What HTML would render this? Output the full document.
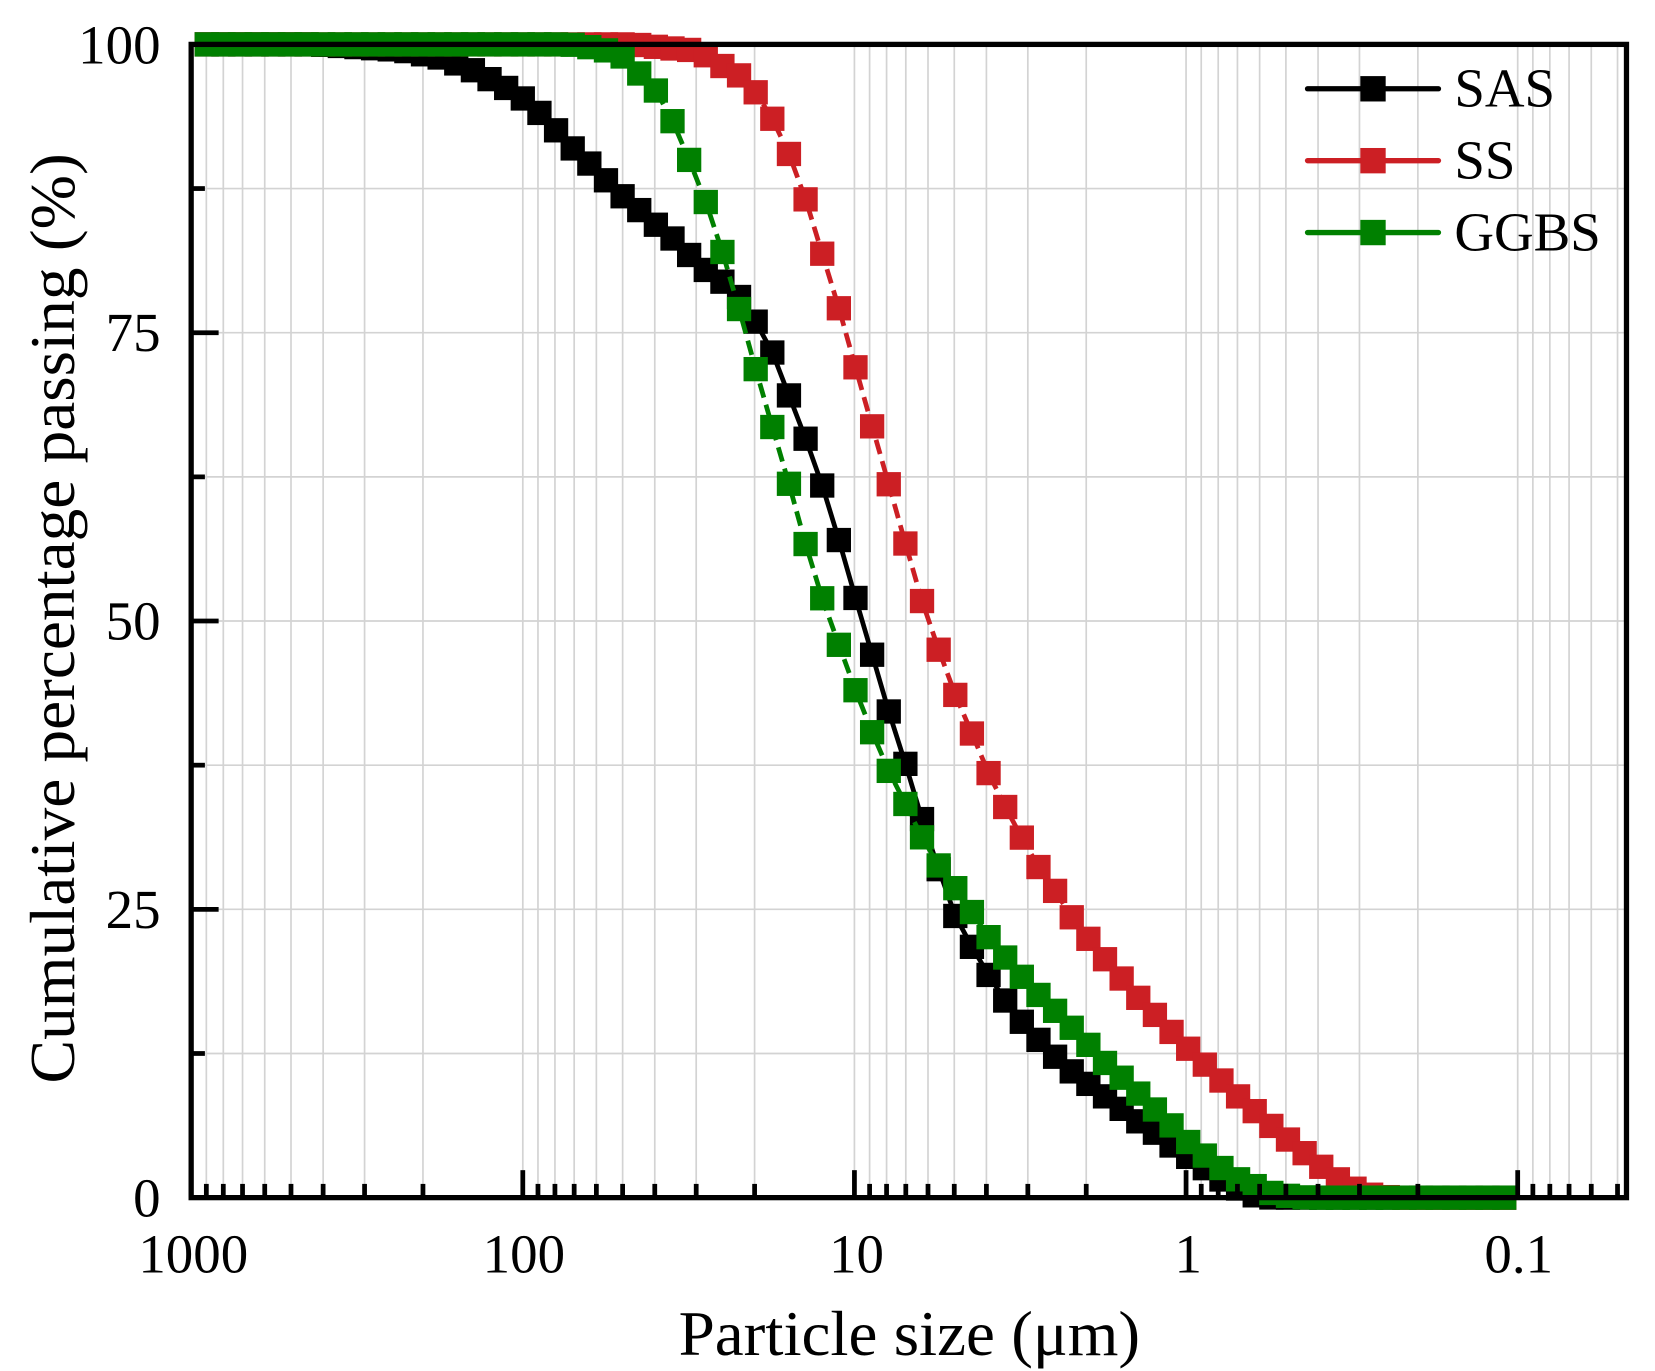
<!DOCTYPE html>
<html><head><meta charset="utf-8"><style>html,body{margin:0;padding:0;background:#fff}svg{display:block}</style></head>
<body>
<svg id="s" width="1655" height="1371" viewBox="0 0 1567 1297" preserveAspectRatio="none" xmlns="http://www.w3.org/2000/svg" font-family="'Liberation Serif', serif">
<g id="grid" stroke="#d3d3d3" stroke-width="1.6"></g>
<g id="series"></g>
<g id="ticks" stroke="#000" stroke-width="4.5"></g>
<rect x="181" y="42" width="1359" height="1091" fill="none" stroke="#000" stroke-width="5"/>
<g font-size="52" fill="#000" text-anchor="end">
<text x="152" y="60">100</text>
<text x="152" y="332">75</text>
<text x="152" y="605">50</text>
<text x="152" y="878">25</text>
<text x="152" y="1151">0</text>
</g>
<g font-size="52" fill="#000" text-anchor="middle">
<text x="183" y="1204">1000</text>
<text x="496" y="1204">100</text>
<text x="811" y="1204">10</text>
<text x="1125" y="1204">1</text>
<text x="1438" y="1204">0.1</text>
</g>
<text x="861" y="1282" font-size="60" text-anchor="middle" textLength="437" lengthAdjust="spacingAndGlyphs">Particle size (μm)</text>
<text transform="translate(70,585) rotate(-90)" font-size="60" text-anchor="middle" textLength="880" lengthAdjust="spacingAndGlyphs">Cumulative percentage passing (%)</text>
<g stroke-width="5" stroke-linecap="round">
<line x1="1238" y1="84" x2="1362" y2="84" stroke="#000"/>
<rect x="1288" y="72" width="24" height="24" fill="#000"/>
<line x1="1238" y1="152" x2="1362" y2="152" stroke="#cc1f24"/>
<rect x="1288" y="140" width="24" height="24" fill="#cc1f24"/>
<line x1="1238" y1="220" x2="1362" y2="220" stroke="#008000"/>
<rect x="1288" y="208" width="24" height="24" fill="#008000"/>
</g>
<g font-size="52" fill="#000">
<text x="1377" y="101">SAS</text>
<text x="1377" y="169">SS</text>
<text x="1377" y="237">GGBS</text>
</g>
</svg>
<script>
var NS="http://www.w3.org/2000/svg";
function el(p,t,a){var e=document.createElementNS(NS,t);for(var k in a)e.setAttribute(k,a[k]);p.appendChild(e);return e;}
var L=181,R=1540,T=42,B=1133,X1000=181,DEC=314;
function X(v){return X1000+(3-Math.log10(v))*DEC;}
function Y(p){return B-p*(B-T)/100;}
var grid=document.getElementById('grid'),ticks=document.getElementById('ticks');
for(var e=-2;e<=3;e++){for(var m=1;m<10;m++){var v=m*Math.pow(10,e);var x=X(v);if(x<L-0.5||x>R+0.5)continue;
 el(grid,'line',{x1:x,y1:T,x2:x,y2:B});
 var len=(m==1)?26:13; el(ticks,'line',{x1:x,y1:B,x2:x,y2:B-len});}}
for(var i=1;i<8;i++){var y=Y(i*12.5);el(grid,'line',{x1:L,y1:y,x2:R,y2:y});}
for(var i=0;i<=8;i++){var y=Y(i*12.5);var len=(i%2==0)?26:13;el(ticks,'line',{x1:L,y1:y,x2:L+len,y2:y});}
function interp(a,x){if(x<=a[0][0])return a[0][1];for(var i=1;i<a.length;i++){if(x<=a[i][0]){var t=(x-a[i-1][0])/(a[i][0]-a[i-1][0]);return a[i-1][1]+t*(a[i][1]-a[i-1][1]);}}return a[a.length-1][1];}
var SAS=[[181,100],[300,100],[380,99.5],[420,98.8],[452,97.6],[467,96.8],[484,96],[500,95],[516,93.6],[532,92],[542,91],[560,89.5],[575,88.1],[591,86.7],[607,85.5],[623,84.2],[639,83],[654,81.6],[670,80.3],[686,79.3],[702,77.9],[718,75.6],[734,72.8],[746,69.8],[762,66],[778,61.9],[794,57.1],[810,52],[826,47],[842,42],[858,37.4],[872,33.1],[888,28.7],[900,25.2],[918,22.1],[934,19.6],[950,17.3],[966,15.4],[982,13.8],[998,12.3],[1014,11],[1030,9.9],[1046,8.8],[1062,7.7],[1078,6.6],[1094,5.6],[1108,4.6],[1124,3.6],[1140,2.6],[1156,1.6],[1172,0.8],[1188,0.2],[1205,0],[1437,0]];
var SS=[[181,100],[600,100],[630,99.7],[655,99.5],[670,99],[686,98],[700,97.3],[716,95.8],[731,93.6],[747,90.5],[763,86.5],[778,82],[794,77.2],[810,72],[826,66.8],[842,61.7],[857,56.8],[872,52],[888,47.7],[904,43.7],[920,40.3],[935,37],[951,34],[967,31.3],[983,28.7],[999,26.6],[1014,24.4],[1030,22.5],[1046,20.7],[1062,19],[1078,17.3],[1094,15.8],[1110,14.3],[1124,13],[1140,11.6],[1156,10.2],[1172,8.8],[1188,7.5],[1204,6.2],[1220,5],[1236,3.8],[1252,2.6],[1268,1.5],[1284,0.7],[1300,0.2],[1318,0],[1437,0]];
var GG=[[181,100],[540,100],[570,99.6],[589,99],[605,97.5],[621,96],[637,93.3],[652,90.1],[668,86.4],[684,82],[699,77.3],[715,72],[731,66.9],[747,61.9],[762,56.9],[778,52.1],[794,48],[810,44],[826,40.3],[842,36.9],[858,34],[872,31.4],[888,28.9],[904,26.9],[920,24.8],[935,22.7],[951,20.9],[967,19.2],[983,17.6],[999,16.2],[1014,14.8],[1030,13.3],[1046,11.7],[1062,10.4],[1078,9],[1094,7.6],[1110,6.2],[1124,4.9],[1140,3.7],[1156,2.6],[1172,1.6],[1188,1],[1204,0.4],[1220,0.15],[1238,0],[1437,0]];
var S=document.getElementById('series');
function draw(a,col,dash){var xs=[];var st=15.75;var k0=Math.ceil((181-810)/st);for(var k=k0;810+k*st<=1438;k++)xs.push(810+k*st);
 var pts=xs.map(function(x){return [x,Y(interp(a,x))];});
 var g=el(S,'g',{});
 var a2={points:pts.map(function(p){return p[0].toFixed(1)+','+p[1].toFixed(1);}).join(' '),fill:'none',stroke:col,'stroke-width':4.5};
 if(dash)a2['stroke-dasharray']=dash;el(g,'polyline',a2);
 pts.forEach(function(p){el(g,'rect',{x:p[0]-11.5,y:p[1]-11.5,width:23,height:23,fill:col});});}
draw(SAS,'#000',null);
draw(SS,'#cc1f24','14,7');
draw(GG,'#008000','14,7');
</script>
</body></html>
